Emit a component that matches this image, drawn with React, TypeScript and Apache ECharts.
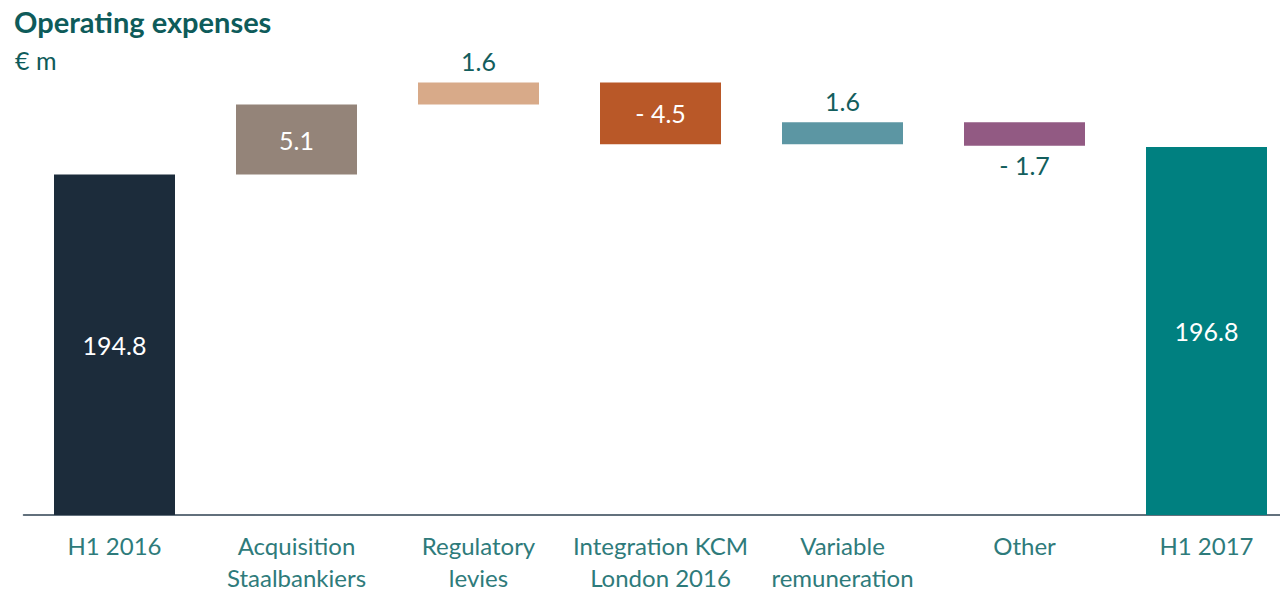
import React, { useEffect, useRef } from "react";
import * as echarts from "echarts";

const categories = [
  "H1 2016",
  "Acquisition\nStaalbankiers",
  "Regulatory\nlevies",
  "Integration KCM\nLondon 2016",
  "Variable\nremuneration",
  "Other",
  "H1 2017",
];
// totals (first & last) and changes in between, € m
const values = [194.8, 5.1, 1.6, -4.5, 1.6, -1.7, 196.8];
const isTotal = [true, false, false, false, false, false, true];
const barColors = ["#1c2c3b", "#948479", "#d8aa89", "#b95828", "#5c96a3", "#925a83", "#008080"];

const fmt = (v: number) => (v < 0 ? "- " + Math.abs(v).toFixed(1) : v.toFixed(1));

export default function App() {
  const ref = useRef<HTMLDivElement>(null);
  useEffect(() => {
    if (!ref.current) return;
    const chart = echarts.init(ref.current, null, { renderer: "svg" });

    const base: number[] = [];
    const height: number[] = [];
    let running = 0;
    values.forEach((v, i) => {
      if (isTotal[i]) {
        base.push(0);
        height.push(v);
        running = v;
      } else {
        const next = running + v;
        base.push(Math.min(running, next));
        height.push(Math.abs(v));
        running = next;
      }
    });

    const font = "Lato, 'Open Sans', sans-serif";
    const valueData = height.map((h, i) => {
      const v = values[i];
      const small = !isTotal[i] && Math.abs(v) < 3;
      return {
        value: h,
        itemStyle: { color: barColors[i] },
        label: {
          show: true,
          position: small ? (v < 0 ? "bottom" : "top") : "inside",
          distance: small && v > 0 ? 9 : 7,
          color: small ? "#135e5d" : "#ffffff",
          fontSize: 25,
          fontFamily: font,
          formatter: () => fmt(v),
        },
      };
    });

    chart.setOption({
      animation: false,
      backgroundColor: "#ffffff",
      title: [
        {
          text: "Operating expenses",
          left: 9,
          top: 2,
          textStyle: { fontSize: 29, fontWeight: "bold", color: "#0e5b5a", fontFamily: font },
        },
        {
          text: "€ m",
          left: 10,
          top: 42,
          textStyle: { fontSize: 25, fontWeight: "normal", color: "#0e5b5a", fontFamily: font },
        },
      ],
      grid: {
        left: 23.5,
        right: -17.5,
        top: 34.5,
        bottom: 78,
        containLabel: false,
        outerBoundsMode: "none",
      },
      xAxis: {
        type: "category",
        data: categories,
        axisLine: { show: true, lineStyle: { color: "#2f4252", width: 1.5 } },
        axisTick: { show: false },
        axisLabel: {
          interval: 0,
          margin: 14,
          color: "#2e7b7b",
          fontSize: 24,
          lineHeight: 32,
          fontFamily: font,
          verticalAlign: "top",
        },
      },
      yAxis: {
        type: "value",
        min: 170,
        max: 205,
        show: false,
        splitLine: { show: false },
      },
      series: [
        {
          type: "bar",
          stack: "w",
          data: base,
          barWidth: 121,
          itemStyle: { color: "transparent" },
          emphasis: { disabled: true },
          silent: true,
        },
        {
          type: "bar",
          stack: "w",
          data: valueData,
          barWidth: 121,
        },
      ],
    });
    return () => chart.dispose();
  }, []);
  return (
    <div
      ref={ref}
      style={{ position: "fixed", left: 0, top: 0, width: 1280, height: 593 }}
    />
  );
}
